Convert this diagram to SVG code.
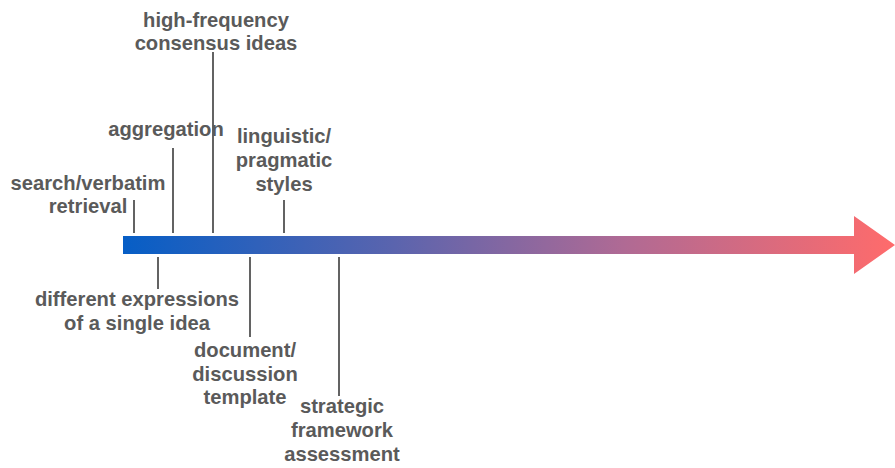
<svg xmlns="http://www.w3.org/2000/svg" width="895" height="468" viewBox="0 0 895 468">
<style>
text{font-family:"Liberation Sans",Arial,sans-serif;font-weight:bold;font-size:20.2px;fill:#5a5a5a;text-anchor:middle}
.tick{stroke:#3c3c3c;stroke-width:1.6;fill:none}
</style>
<defs>
<linearGradient id="g" gradientUnits="userSpaceOnUse" x1="123" y1="0" x2="895" y2="0">
<stop offset="0" stop-color="#065ec6"/>
<stop offset="0.35" stop-color="#5a64ae"/>
<stop offset="0.65" stop-color="#b06a94"/>
<stop offset="1" stop-color="#ff6b6b"/>
</linearGradient>
</defs>
<g id="axis">
<path d="M123,236 H854 V216 L895,245 L854,274 V254 H123 Z" fill="url(#g)"/>
</g>
<g id="connectors">
<line class="tick" x1="134" y1="200" x2="134" y2="233"/>
<line class="tick" x1="173" y1="148" x2="173" y2="233"/>
<line class="tick" x1="213" y1="52" x2="213" y2="233"/>
<line class="tick" x1="284" y1="200" x2="284" y2="233"/>
<line class="tick" x1="158" y1="257" x2="158" y2="289"/>
<line class="tick" x1="250" y1="257" x2="250" y2="337"/>
<line class="tick" x1="339" y1="257" x2="339" y2="396"/>
</g>
<g id="n-search"><text x="88" y="190">search/verbatim</text><text x="88" y="213">retrieval</text></g>
<g id="n-aggregation"><text x="166" y="136">aggregation</text></g>
<g id="n-highfreq"><text x="216" y="27">high-frequency</text><text x="216" y="50">consensus ideas</text></g>
<g id="n-linguistic"><text x="284" y="143">linguistic/</text><text x="284" y="167">pragmatic</text><text x="284" y="191">styles</text></g>
<g id="n-different"><text x="137" y="306">different expressions</text><text x="137" y="330">of a single idea</text></g>
<g id="n-document"><text x="245" y="357">document/</text><text x="245" y="381">discussion</text><text x="245" y="404">template</text></g>
<g id="n-strategic"><text x="342" y="413">strategic</text><text x="342" y="437">framework</text><text x="342" y="461">assessment</text></g>
</svg>
